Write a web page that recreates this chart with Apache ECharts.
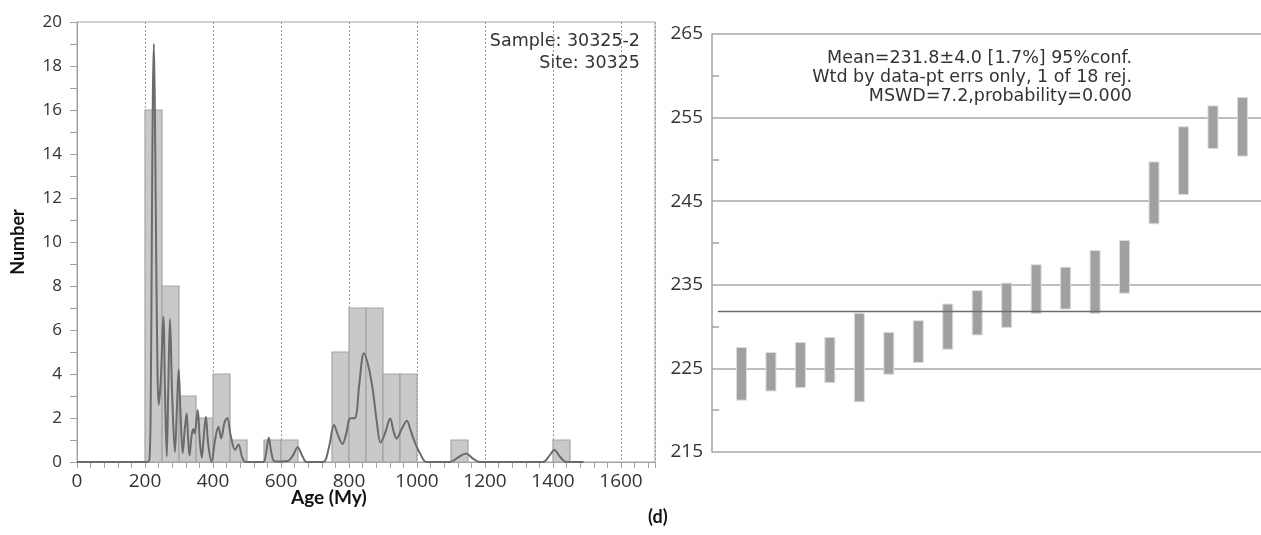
<!DOCTYPE html>
<html>
<head>
<meta charset="utf-8">
<script src="https://cdn.jsdelivr.net/npm/echarts@6/dist/echarts.min.js"></script>
<style>
html,body{margin:0;padding:0;background:#fff;}
#chart{width:1261px;height:535px;}
</style>
</head>
<body>
<div id="chart"></div>
<script>
// ---- Left panel: age histogram + probability density curve ----
const binStarts = [200, 250, 300, 350, 400, 450, 550, 600, 750, 800, 850, 900, 950, 1100, 1400];
const binCounts = [16, 8, 3, 2, 4, 1, 1, 1, 5, 7, 7, 4, 4, 1, 1];
const binWidth = 50;

const kdeAge = [0, 150, 205, 213, 217, 220, 223, 226, 229, 232, 236, 240, 246, 254, 259, 264, 268, 273.5, 280, 288, 294, 299, 305, 311, 317, 322.5, 327, 331, 337, 342, 346, 355, 361, 367, 373, 379, 386, 396, 406, 416, 424, 434, 442, 452, 465, 475, 486, 497, 548, 555, 564, 572, 582, 620, 635, 649, 662, 675, 724, 740, 756, 768, 781, 792, 803, 818, 830, 844, 858, 870, 882, 893, 906, 921, 931, 940, 955, 970, 982, 994, 1009, 1028, 1097, 1120, 1144, 1165, 1185, 1371, 1390, 1404, 1420, 1440, 1490];
const kdeValue = [0, 0, 0, 0.1, 3, 10, 16.5, 19, 16, 11, 5, 2.6, 3.6, 6.6, 3, 0.25, 3, 6.5, 3, 0.45, 2.5, 4.2, 2, 0.4, 1.5, 2.2, 1, 0.3, 1.2, 1.5, 1.3, 2.36, 1, 0.2, 1.2, 2.06, 0.8, 0, 1, 1.6, 1.08, 1.8, 2.0, 1.2, 0.55, 0.8, 0.2, 0, 0, 0.3, 1.1, 0.4, 0.02, 0.05, 0.3, 0.67, 0.3, 0, 0, 0.6, 1.68, 1.2, 0.82, 1.3, 1.98, 2.0, 3.5, 4.94, 4.3, 3.27, 1.8, 0.88, 1.3, 1.98, 1.4, 1.07, 1.5, 1.88, 1.4, 0.88, 0.39, 0, 0, 0.2, 0.39, 0.15, 0, 0, 0.3, 0.55, 0.25, 0, 0];

// ---- Right panel: weighted mean plot ----
const spotLow  = [221.2, 222.3, 222.7, 223.3, 221.0, 224.3, 225.7, 227.3, 229.0, 229.9, 231.6, 232.1, 231.6, 234.0, 242.3, 245.8, 251.3, 250.4];
const spotHigh = [227.5, 226.9, 228.1, 228.7, 231.6, 229.3, 230.7, 232.7, 234.3, 235.2, 237.4, 237.1, 239.1, 240.3, 249.7, 253.9, 256.4, 257.4];
const weightedMean = 231.8;

const sampleText = ['Sample: 30325-2', 'Site: 30325'];
const meanText = ['Mean=231.8±4.0 [1.7%] 95%conf.', 'Wtd by data-pt errs only, 1 of 18 rej.', 'MSWD=7.2,probability=0.000'];

const FONT = 'Open Sans';
const NOTE_FONT = 'DejaVu Sans';
const AXIS_GRAY = '#a3a3a3';
const W = 1261;

const chart = echarts.init(document.getElementById('chart'), null, {renderer: 'canvas'});

const histData = binStarts.map((s, i) => [s, s + binWidth, binCounts[i]]);
const kdeData = kdeAge.map((a, i) => [a, kdeValue[i]]);
const spotData = spotLow.map((lo, i) => [i + 1, lo, spotHigh[i]]);

const graphics = [
  {
    type: 'text', left: 291, top: 488,
    style: {text: 'Age (My)', fontSize: 19, fontWeight: 'bold', fontFamily: 'Lato', fill: '#111'}
  },
  {
    type: 'text', left: 648, top: 508,
    style: {text: '(d)', fontSize: 18, fontWeight: 'bold', fontFamily: 'Lato', fill: '#111'}
  }
];
sampleText.forEach((t, i) => {
  graphics.push({
    type: 'text', right: W - 640, top: 32 + i * 22,
    style: {text: t, fontSize: 17.5, fill: '#333', fontFamily: NOTE_FONT}
  });
});
meanText.forEach((t, i) => {
  graphics.push({
    type: 'text', right: W - 1132, top: 49 + i * 19,
    style: {text: t, fontSize: 17.5, fill: '#333', fontFamily: NOTE_FONT}
  });
});

const option = {
  animation: false,
  backgroundColor: '#fff',
  textStyle: {fontFamily: FONT},
  grid: [
    {left: 77, top: 22, width: 578, height: 440, show: true, borderColor: AXIS_GRAY, borderWidth: 1, outerBoundsMode: 'none'},
    {left: 712, top: 34, right: 0, height: 418, outerBoundsMode: 'none'}
  ],
  xAxis: [
    {
      gridIndex: 0, type: 'value', min: 0, max: 1700, interval: 40,
      axisLine: {show: true, lineStyle: {color: AXIS_GRAY, width: 1}},
      axisTick: {show: true, length: 6, lineStyle: {color: AXIS_GRAY}},
      axisLabel: {
        margin: 10, fontSize: 19, color: '#333',
        formatter: v => (v % 200 === 0 && v <= 1600) ? String(v) : ''
      },
      splitLine: {show: false}
    },
    {
      gridIndex: 0, type: 'value', min: 0, max: 1700, interval: 200, position: 'bottom',
      axisLine: {show: false}, axisTick: {show: false}, axisLabel: {show: false},
      splitLine: {show: true, lineStyle: {color: '#9a9a9a', type: [2, 2], width: 1}}
    },
    {
      gridIndex: 1, type: 'value', min: 0, max: 18.63,
      axisLine: {show: false}, axisTick: {show: false}, axisLabel: {show: false},
      splitLine: {show: false}
    }
  ],
  yAxis: [
    {
      gridIndex: 0, type: 'value', min: 0, max: 20, interval: 2,
      name: 'Number', nameLocation: 'middle', nameGap: 50, nameRotate: 90,
      nameTextStyle: {fontSize: 18, color: '#111', fontWeight: 'bold', fontFamily: 'Lato'},
      axisLine: {show: true, lineStyle: {color: AXIS_GRAY}},
      axisTick: {show: true, length: 7, lineStyle: {color: AXIS_GRAY}},
      minorTick: {show: true, splitNumber: 2, length: 7, lineStyle: {color: AXIS_GRAY}},
      axisLabel: {margin: 15, fontSize: 17, color: '#333'},
      splitLine: {show: false}
    },
    {
      gridIndex: 1, type: 'value', min: 215, max: 265, interval: 10,
      axisLine: {show: true, lineStyle: {color: AXIS_GRAY, width: 1.5}},
      axisTick: {show: false, inside: true},
      minorTick: {show: true, splitNumber: 2, length: 7, lineStyle: {color: AXIS_GRAY, width: 1.5}},
      axisLabel: {margin: 9, fontSize: 19, color: '#333'},
      splitLine: {show: true, lineStyle: {color: '#a8a8a8', width: 1.5}}
    }
  ],
  series: [
    {
      type: 'custom', xAxisIndex: 0, yAxisIndex: 0,
      data: histData,
      encode: {x: [0, 1], y: 2},
      renderItem: function (params, api) {
        const p0 = api.coord([api.value(0), 0]);
        const p1 = api.coord([api.value(1), api.value(2)]);
        return {
          type: 'rect',
          shape: {x: p0[0], y: p1[1], width: p1[0] - p0[0], height: p0[1] - p1[1]},
          style: {fill: '#c9c9c9', stroke: '#a5a5a5', lineWidth: 1.2}
        };
      },
      z: 2
    },
    {
      type: 'line', xAxisIndex: 0, yAxisIndex: 0,
      data: kdeData, smooth: 0.35, showSymbol: false, symbol: 'none',
      lineStyle: {color: '#6b6b6b', width: 2},
      z: 5
    },
    {
      type: 'custom', xAxisIndex: 2, yAxisIndex: 1,
      data: spotData,
      encode: {x: 0, y: [1, 2]},
      renderItem: function (params, api) {
        const top = api.coord([api.value(0), api.value(2)]);
        const bot = api.coord([api.value(0), api.value(1)]);
        const w = 10;
        return {
          type: 'rect',
          shape: {x: top[0] - w / 2, y: top[1], width: w, height: bot[1] - top[1]},
          style: {fill: '#a0a0a0', stroke: '#dcdcdc', lineWidth: 1}
        };
      },
      z: 3
    },
    {
      type: 'line', xAxisIndex: 2, yAxisIndex: 1,
      data: [[0.2, weightedMean], [18.63, weightedMean]],
      showSymbol: false, symbol: 'none',
      lineStyle: {color: '#6e6e6e', width: 1.5},
      z: 4
    }
  ],
  graphic: graphics
};

chart.setOption(option);
</script>
</body>
</html>
